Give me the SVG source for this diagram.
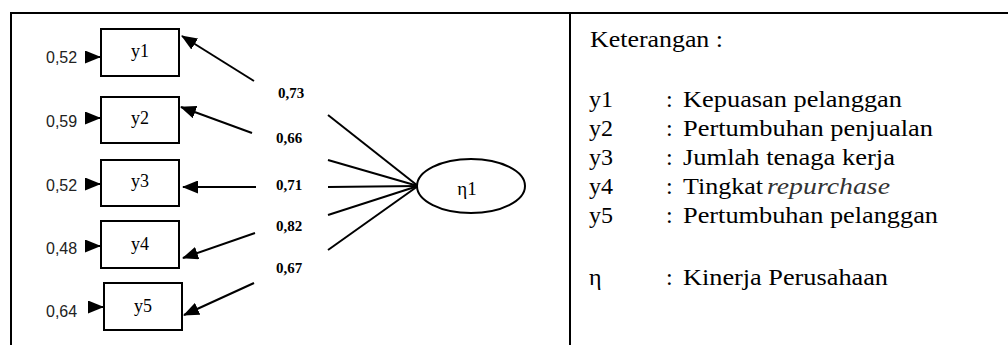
<svg xmlns="http://www.w3.org/2000/svg" width="1008" height="345" viewBox="0 0 1008 345">
<defs>
<marker id="ah" markerWidth="8" markerHeight="6.5" refX="7.5" refY="3.25" orient="auto" markerUnits="strokeWidth">
<path d="M0,0 L8,3.25 L0,6.5 Z" fill="#000"/>
</marker>
<style>
line{stroke:#000;stroke-width:2;fill:none}
.arr{marker-end:url(#ah)}
.box{fill:#fff;stroke:#000;stroke-width:2}
</style>
</defs>
<g id="frame">
<line x1="11" y1="13" x2="1008" y2="13"/>
<line x1="11" y1="12" x2="11" y2="345"/>
<line x1="570" y1="13" x2="570" y2="345"/>
</g>
<g id="connectors">
<line class="arr" x1="86" y1="57" x2="100" y2="57"/>
<line class="arr" x1="86" y1="118" x2="100" y2="118"/>
<line class="arr" x1="86" y1="184" x2="100" y2="184"/>
<line class="arr" x1="86" y1="246" x2="100" y2="246"/>
<line class="arr" x1="89" y1="307" x2="103" y2="307"/>
<line class="arr" x1="254" y1="81" x2="182" y2="36"/>
<line class="arr" x1="252" y1="133" x2="181" y2="107"/>
<line class="arr" x1="256" y1="187" x2="183" y2="187"/>
<line class="arr" x1="255" y1="233" x2="183" y2="258"/>
<line class="arr" x1="254" y1="283" x2="184" y2="315"/>
<line x1="328" y1="115" x2="418" y2="186"/>
<line x1="328" y1="160" x2="418" y2="186"/>
<line x1="328" y1="187" x2="418" y2="186"/>
<line x1="328" y1="215" x2="418" y2="186"/>
<line x1="328" y1="250" x2="418" y2="186"/>
</g>
<g font-family="Liberation Serif, Times New Roman, serif" font-size="18" text-anchor="middle" fill="#000">
<g id="y1"><rect class="box" x="101" y="29" width="78" height="47"/><text x="140" y="57">y1</text></g>
<g id="y2"><rect class="box" x="101" y="97" width="78" height="46"/><text x="140" y="124">y2</text></g>
<g id="y3"><rect class="box" x="101" y="160" width="78" height="46"/><text x="140" y="187">y3</text></g>
<g id="y4"><rect class="box" x="101" y="221" width="78" height="47"/><text x="140" y="250">y4</text></g>
<g id="y5"><rect class="box" x="104" y="283" width="78" height="47"/><text x="143" y="312">y5</text></g>
<g id="eta"><ellipse class="box" cx="471" cy="186" rx="54" ry="27"/><text x="467" y="195" font-size="19">η1</text></g>
</g>
<g id="errors" font-family="Liberation Sans, Arial, sans-serif" font-size="16" fill="#222">
<text x="46" y="63">0,52</text>
<text x="46" y="127">0,59</text>
<text x="46" y="191">0,52</text>
<text x="46" y="254">0,48</text>
<text x="46" y="317">0,64</text>
</g>
<g id="coefficients" font-family="Liberation Serif, Times New Roman, serif" font-size="15" font-weight="bold">
<text x="278" y="98">0,73</text>
<text x="276" y="143">0,66</text>
<text x="276" y="190">0,71</text>
<text x="276" y="231">0,82</text>
<text x="276" y="273">0,67</text>
</g>
<g id="legend" font-family="Liberation Serif, Times New Roman, serif" font-size="24" fill="#000">
<text x="590" y="47" textLength="133" lengthAdjust="spacingAndGlyphs">Keterangan :</text>
<text x="589" y="107">y1</text><text x="666" y="107">:</text><text x="683" y="107" textLength="219" lengthAdjust="spacingAndGlyphs">Kepuasan pelanggan</text>
<text x="589" y="136">y2</text><text x="666" y="136">:</text><text x="683" y="136" textLength="250" lengthAdjust="spacingAndGlyphs">Pertumbuhan penjualan</text>
<text x="589" y="165">y3</text><text x="666" y="165">:</text><text x="683" y="165" textLength="212" lengthAdjust="spacingAndGlyphs">Jumlah tenaga kerja</text>
<text x="589" y="194">y4</text><text x="666" y="194">:</text><text x="683" y="194" textLength="80" lengthAdjust="spacingAndGlyphs">Tingkat</text><text x="767" y="194" font-style="italic" fill="#333" textLength="123" lengthAdjust="spacingAndGlyphs">repurchase</text>
<text x="589" y="223">y5</text><text x="666" y="223">:</text><text x="683" y="223" textLength="255" lengthAdjust="spacingAndGlyphs">Pertumbuhan pelanggan</text>
<text x="589" y="285">η</text><text x="666" y="285">:</text><text x="683" y="285" textLength="205" lengthAdjust="spacingAndGlyphs">Kinerja Perusahaan</text>
</g>
</svg>
